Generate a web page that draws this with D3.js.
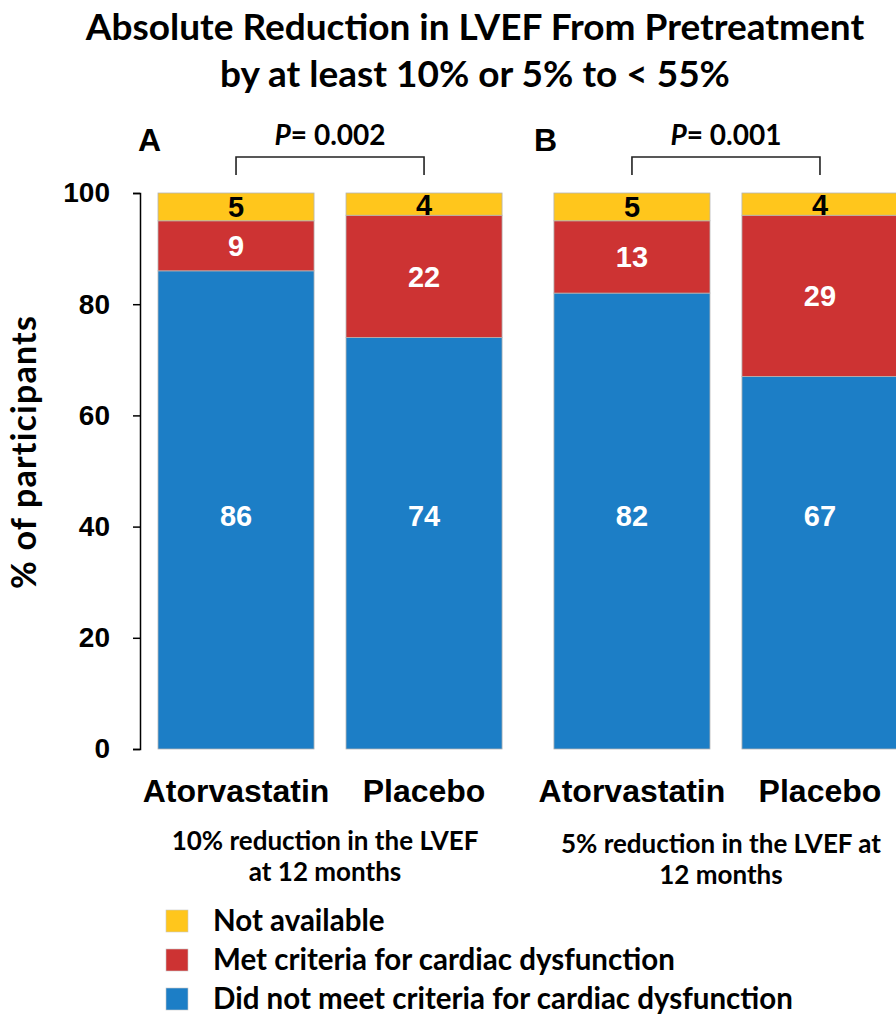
<!DOCTYPE html>
<html>
<head>
<meta charset="utf-8">
<script src="https://cdn.jsdelivr.net/npm/d3@7/dist/d3.min.js"></script>
<style>
  html, body { margin: 0; padding: 0; background: #fff; }
  svg { display: block; }
</style>
</head>
<body>
<svg id="chart" width="896" height="1017"></svg>
<script>
// ---- data -------------------------------------------------------------
const panels = ["A", "B"];
const arms = ["Atorvastatin", "Placebo"];
// one entry per bar: panel A (Atorvastatin, Placebo), panel B (Atorvastatin, Placebo)
const barPanel = ["A", "A", "B", "B"];
const barArm = ["Atorvastatin", "Placebo", "Atorvastatin", "Placebo"];
const didNotMeet = [86, 74, 82, 67];
const metCriteria = [9, 22, 13, 29];
const notAvailable = [5, 4, 5, 4];
const pValues = ["0.002", "0.001"];
const panelNotes = [
  ["10% reduction in the LVEF", "at 12 months"],
  ["5% reduction in the LVEF at", "12 months"]
];
const yTicks = [0, 20, 40, 60, 80, 100];
const seriesKeys = ["didNotMeet", "metCriteria", "notAvailable"];
const seriesNames = {
  notAvailable: "Not available",
  metCriteria: "Met criteria for cardiac dysfunction",
  didNotMeet: "Did not meet criteria for cardiac dysfunction"
};
const titleLines = ["Absolute Reduction in LVEF From Pretreatment", "by at least 10% or 5% to < 55%"];

// ---- styling ----------------------------------------------------------
const colors = { notAvailable: "#FFC61C", metCriteria: "#CD3333", didNotMeet: "#1C7EC6" };
const labelColors = { notAvailable: "#000", metCriteria: "#fff", didNotMeet: "#fff" };
const sansBold = "'Liberation Sans', Arial, sans-serif";
const humanist = "Lato, 'Open Sans', sans-serif";

const svg = d3.select("#chart");

// ---- scales -----------------------------------------------------------
const y = d3.scaleLinear().domain([0, 100]).range([749, 193]);
const xPanel = d3.scaleBand().domain(panels).range([158, 898]).paddingInner(0.131).paddingOuter(0);
const xArm = d3.scaleBand().domain(arms).range([0, xPanel.bandwidth()]).paddingInner(0.17);

const rows = barPanel.map((p, i) => ({
  panel: p, arm: barArm[i],
  didNotMeet: didNotMeet[i], metCriteria: metCriteria[i], notAvailable: notAvailable[i]
}));
const stacked = d3.stack().keys(seriesKeys)(rows);
const barX = d => xPanel(d.data.panel) + xArm(d.data.arm);

// ---- title ------------------------------------------------------------
svg.append("g").selectAll("text").data(titleLines).join("text")
  .attr("x", 475).attr("y", (d, i) => 40 + i * 47)
  .attr("text-anchor", "middle")
  .style("font-family", humanist).style("font-weight", 700).style("font-size", "37px")
  .text(d => d);

// ---- bars -------------------------------------------------------------
const layers = svg.append("g").selectAll("g").data(stacked).join("g")
  .attr("fill", s => colors[s.key]);
layers.selectAll("rect").data(s => s).join("rect")
  .attr("x", barX)
  .attr("width", xArm.bandwidth())
  .attr("y", d => y(d[1]))
  .attr("height", d => y(d[0]) - y(d[1]))
  .attr("stroke", "#b5b5b5").attr("stroke-width", 0.8);

// value labels
stacked.forEach(s => {
  svg.append("g").selectAll("text").data(s).join("text")
    .attr("x", d => barX(d) + xArm.bandwidth() / 2)
    .attr("y", d => s.key === "didNotMeet" ? y(42) : y((d[0] + d[1]) / 2))
    .attr("dy", "0.36em")
    .attr("text-anchor", "middle")
    .attr("fill", labelColors[s.key])
    .style("font-family", sansBold).style("font-weight", 700).style("font-size", "29px")
    .text(d => d.data[s.key]);
});

// ---- y axis -----------------------------------------------------------
const yAxis = svg.append("g")
  .attr("transform", "translate(140,0)")
  .call(d3.axisLeft(y).tickValues(yTicks).tickSize(7).tickSizeOuter(7).tickPadding(23));
yAxis.select(".domain").attr("stroke", "#000").attr("stroke-width", 1.5);
yAxis.selectAll(".tick line").attr("stroke", "#000").attr("stroke-width", 1.5);
yAxis.selectAll(".tick text")
  .style("font-family", sansBold).style("font-weight", 700).style("font-size", "28px")
  .attr("fill", "#000");

svg.append("text")
  .attr("transform", "translate(36,452) rotate(-90)")
  .attr("text-anchor", "middle")
  .style("font-family", humanist).style("font-weight", 700).style("font-size", "34px")
  .style("letter-spacing", "1.2px")
  .text("% of participants");

// ---- category labels --------------------------------------------------
svg.append("g").selectAll("text").data(rows).join("text")
  .attr("x", d => xPanel(d.panel) + xArm(d.arm) + xArm.bandwidth() / 2)
  .attr("y", 802)
  .attr("text-anchor", "middle")
  .style("font-family", sansBold).style("font-weight", 700).style("font-size", "32px")
  .text(d => d.arm);

// ---- panel letters, brackets and P values -----------------------------
panels.forEach((p, i) => {
  const left = xPanel(p) + xArm(arms[0]) + xArm.bandwidth() / 2;
  const right = xPanel(p) + xArm(arms[1]) + xArm.bandwidth() / 2;
  const g = svg.append("g");

  g.append("text")
    .attr("x", xPanel(p) - 20).attr("y", 151)
    .style("font-family", sansBold).style("font-weight", 700).style("font-size", "32px")
    .text(p);

  g.append("path")
    .attr("d", `M${left},175V157H${right}V175`)
    .attr("fill", "none").attr("stroke", "#222").attr("stroke-width", 1.6);

  const pt = g.append("text")
    .attr("x", (left + right) / 2).attr("y", 145)
    .attr("text-anchor", "middle")
    .style("font-family", humanist).style("font-weight", 700).style("font-size", "28px");
  pt.append("tspan").style("font-style", "italic").text("P");
  pt.append("tspan").text("= " + pValues[i]);

  g.selectAll("text.note").data(panelNotes[i]).join("text")
    .attr("class", "note")
    .attr("x", xPanel(p) + xPanel.bandwidth() / 2 - 5)
    .attr("y", (d, j) => (i === 0 ? 850 : 853) + j * 31)
    .attr("text-anchor", "middle")
    .style("font-family", humanist).style("font-weight", 700).style("font-size", "26px")
    .text(d => d);
});

// ---- legend -----------------------------------------------------------
const legendKeys = ["notAvailable", "metCriteria", "didNotMeet"];
const legend = svg.append("g").selectAll("g").data(legendKeys).join("g")
  .attr("transform", (d, i) => `translate(166,${921 + i * 39})`);
legend.append("rect")
  .attr("x", 0).attr("y", -11).attr("width", 22).attr("height", 22)
  .attr("fill", d => colors[d]).attr("stroke", "#c8c8c8").attr("stroke-width", 0.6);
legend.append("text")
  .attr("x", 47).attr("y", 0).attr("dy", "0.34em")
  .style("font-family", humanist).style("font-weight", 700).style("font-size", "29.5px")
  .text(d => seriesNames[d]);
</script>
</body>
</html>
